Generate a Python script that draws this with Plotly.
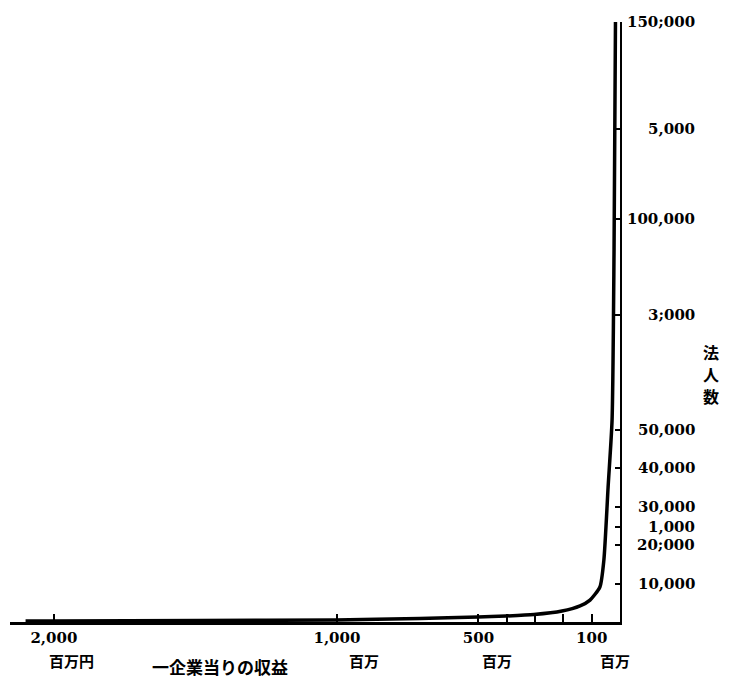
import plotly.graph_objects as go

# Revenue per enterprise (million yen) and number of corporations (scale units)
revenue = [2100, 2004, 1484, 1004, 707, 502, 403, 304, 205, 141, 106, 71, 57, 42, 28, 21, 16]
corps = [260, 260, 390, 520, 900, 1300, 1560, 1950, 2860, 4200, 5700, 9100, 16100, 35100, 52500, 96900, 156000]

x_tickvals = [2000, 1000, 500, 400, 300, 200, 100]
x_ticktext = ["2,000", "1,000", "500", "", "", "", "100"]
unit_vals = [2000, 1000, 500, 100]
unit_text = ["百万円", "百万", "百万", "百万"]
unit_shift = [18, 27, 19, 23]

y_tickvals = [9900, 19900, 24700, 29900, 40000, 49900, 79700, 104700, 128300, 156000]
y_ticktext = ["10,000", "20;000", "1,000", "30,000", "40,000", "50,000", "3;000", "100,000", "5,000", "150;000"]

y_title_chars = ["法", "人", "数"]

W, H = 721, 670          # page body has an 8px offset
L, R, T, B = 2, 109, 14, 56
PW, PH = W - L - R, H - T - B

def px(x):   # page pixel -> paper x
    return (x - 8 - L) / PW

def py(y):   # page pixel -> paper y
    return (H - B - (y - 8)) / PH

fig = go.Figure()
fig.add_trace(go.Scatter(
    x=revenue, y=corps, mode="lines",
    line=dict(color="black", width=3.5, shape="spline", smoothing=0.6),
    showlegend=False, hoverinfo="skip"))

fig.update_layout(
    width=W, height=H,
    margin=dict(l=L, r=R, t=T, b=B),
    paper_bgcolor="white", plot_bgcolor="white",
    xaxis=dict(
        range=[2155, 0], showgrid=False, zeroline=False,
        showline=True, linecolor="black", linewidth=2.5,
        ticks="inside", ticklen=8, tickwidth=1.5, tickcolor="black",
        tickvals=x_tickvals, ticktext=["<b>%s</b>" % t if t else "" for t in x_ticktext],
        tickfont=dict(family="DejaVu Serif", size=15, color="black"),
    ),
    yaxis=dict(
        range=[0, 156000], side="right", showgrid=False, zeroline=False,
        showline=True, linecolor="black", linewidth=2,
        ticks="inside", ticklen=5, tickwidth=1.5, tickcolor="black",
        tickvals=y_tickvals, showticklabels=False,
    ),
)

ann = []
for v, t in zip(y_tickvals, y_ticktext):
    ann.append(dict(x=px(697), xref="paper", y=v, yref="y", text="<b>%s</b>" % t, showarrow=False,
                    xanchor="right", yanchor="middle",
                    font=dict(family="DejaVu Serif", size=15, color="black")))
for v, t, s in zip(unit_vals, unit_text, unit_shift):
    ann.append(dict(x=v, xref="x", y=py(660), yref="paper",
                    text="<b>" + t + "</b>", showarrow=False, xshift=s,
                    xanchor="center", yanchor="middle",
                    font=dict(family="Noto Sans CJK JP", size=15, color="black")))
ann.append(dict(x=px(220), xref="paper", y=py(666), yref="paper",
                text="<b>一企業当りの収益</b>", showarrow=False, xanchor="center", yanchor="middle",
                font=dict(family="Noto Sans CJK JP", size=17, color="black")))
for i, ch in enumerate(y_title_chars):
    ann.append(dict(x=px(711), xref="paper", y=py(352 + 22 * i), yref="paper",
                    text="<b>%s</b>" % ch, showarrow=False, xanchor="center", yanchor="middle",
                    borderpad=0,
                    font=dict(family="Noto Sans CJK JP", size=16, color="black")))
fig.update_layout(annotations=ann)

fig.write_html("out.html")
